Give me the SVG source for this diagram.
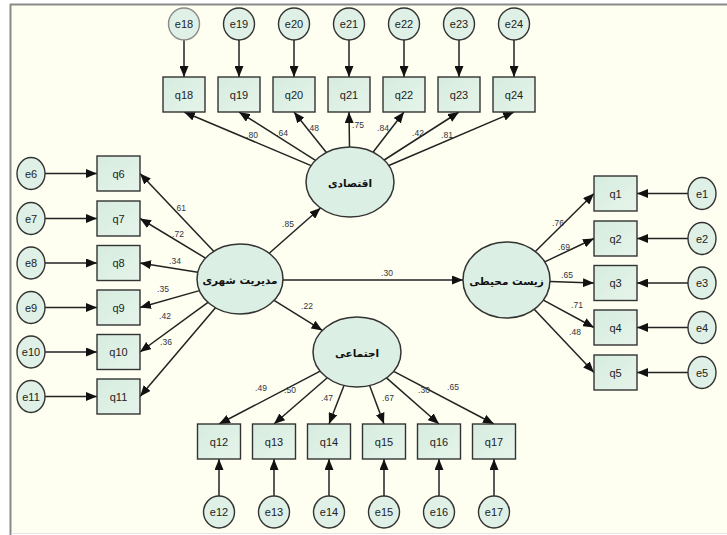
<svg xmlns="http://www.w3.org/2000/svg" width="727" height="535" viewBox="0 0 727 535">
<defs>
<marker id="ah" markerUnits="userSpaceOnUse" markerWidth="11" markerHeight="9" refX="11" refY="4.5" orient="auto">
<path d="M0,0 L11,4.5 L0,9 z" fill="#111"/>
</marker>
<linearGradient id="gb" x1="0" y1="0" x2="1" y2="1">
<stop offset="0" stop-color="#d6ecdf"/>
<stop offset="1" stop-color="#e6f4ea"/>
</linearGradient>
<style>
.bg{fill:#fefff0}
.fr{stroke:#8a8a8a;stroke-width:2;fill:none}
.box{fill:url(#gb);stroke:#333;stroke-width:1.4}
.err{fill:#dff0e6;stroke:#333;stroke-width:1.4}
.lat{fill:#dcefe4;stroke:#333;stroke-width:1.5}
.t{font-family:"Liberation Sans",Arial,sans-serif;font-size:11px;fill:#222;text-anchor:middle}
.fa{font-family:"DejaVu Sans","Noto Sans",sans-serif;font-size:10.5px;font-weight:bold;fill:#111;text-anchor:middle}
.w{font-family:"Liberation Sans",Arial,sans-serif;font-size:8.5px;fill:#334;text-anchor:middle}
#conn line{stroke:#222;stroke-width:1.5;marker-end:url(#ah)}
</style>
</defs>
<rect x="0" y="0" width="727" height="535" fill="#ffffff"/>
<rect class="bg" x="11" y="5" width="716" height="528"/>
<line class="fr" x1="10.5" y1="4" x2="10.5" y2="535"/>
<line class="fr" x1="10" y1="4.5" x2="727" y2="4.5"/>
<line x1="11" y1="533.5" x2="727" y2="533.5" stroke="#e4e4e4" stroke-width="1"/>

<g id="conn">
<!-- economic indicators -->
<line x1="311.1" y1="165.6" x2="184" y2="112"/>
<line x1="315.5" y1="160.3" x2="239" y2="112"/>
<line x1="326.4" y1="152.5" x2="294" y2="112"/>
<line x1="349.5" y1="147" x2="349" y2="112"/>
<line x1="373" y1="152.2" x2="404" y2="112"/>
<line x1="384.2" y1="160" x2="459" y2="112"/>
<line x1="388.8" y1="165.5" x2="514" y2="112"/>
<!-- e18-e24 -->
<line x1="184" y1="40" x2="184" y2="77"/>
<line x1="239" y1="40" x2="239" y2="77"/>
<line x1="294" y1="40" x2="294" y2="77"/>
<line x1="349" y1="40" x2="349" y2="77"/>
<line x1="404" y1="40" x2="404" y2="77"/>
<line x1="459" y1="40" x2="459" y2="77"/>
<line x1="514" y1="40" x2="514" y2="77"/>
<!-- management indicators -->
<line x1="213.7" y1="251.3" x2="140" y2="173.5"/>
<line x1="205.5" y1="258.1" x2="140" y2="218.5"/>
<line x1="197.8" y1="272.2" x2="140" y2="263"/>
<line x1="199.4" y1="290.6" x2="140" y2="307.5"/>
<line x1="208" y1="302.4" x2="140" y2="352"/>
<line x1="215.5" y1="307.8" x2="140" y2="396.5"/>
<!-- e6-e11 -->
<line x1="45" y1="173.5" x2="97" y2="173.5"/>
<line x1="45" y1="218.5" x2="97" y2="218.5"/>
<line x1="45" y1="263" x2="97" y2="263"/>
<line x1="45" y1="307.5" x2="97" y2="307.5"/>
<line x1="45" y1="352" x2="97" y2="352"/>
<line x1="45" y1="396.5" x2="97" y2="396.5"/>
<!-- structural -->
<line x1="269.2" y1="253.3" x2="320.5" y2="208"/>
<line x1="283" y1="280" x2="463" y2="280"/>
<line x1="274.1" y1="300.3" x2="322.4" y2="330.4"/>
<!-- environment indicators -->
<line x1="535.3" y1="251.5" x2="594" y2="193.5"/>
<line x1="544.7" y1="261.9" x2="594" y2="238.5"/>
<line x1="550" y1="281.5" x2="594" y2="283"/>
<line x1="543.4" y1="300.1" x2="594" y2="327.5"/>
<line x1="534.2" y1="309.3" x2="594" y2="372.5"/>
<!-- e1-e5 -->
<line x1="688" y1="193.5" x2="637" y2="193.5"/>
<line x1="688" y1="238.5" x2="637" y2="238.5"/>
<line x1="688" y1="283" x2="637" y2="283"/>
<line x1="688" y1="327.5" x2="637" y2="327.5"/>
<line x1="688" y1="372.5" x2="637" y2="372.5"/>
<!-- social indicators -->
<line x1="320.2" y1="371.2" x2="219" y2="424"/>
<line x1="327.3" y1="377.8" x2="274" y2="424"/>
<line x1="344" y1="385.4" x2="329" y2="424"/>
<line x1="369.6" y1="385.5" x2="384" y2="424"/>
<line x1="386.5" y1="377.9" x2="439" y2="424"/>
<line x1="393.7" y1="371.3" x2="494" y2="424"/>
<!-- e12-e17 -->
<line x1="219" y1="496" x2="219" y2="459"/>
<line x1="274" y1="496" x2="274" y2="459"/>
<line x1="329" y1="496" x2="329" y2="459"/>
<line x1="384" y1="496" x2="384" y2="459"/>
<line x1="439" y1="496" x2="439" y2="459"/>
<line x1="494" y1="496" x2="494" y2="459"/>
</g>

<g id="weights">
<text class="w" x="252" y="138">.80</text>
<text class="w" x="282" y="136">.64</text>
<text class="w" x="313" y="131">.48</text>
<text class="w" x="358" y="128">.75</text>
<text class="w" x="383" y="131">.84</text>
<text class="w" x="418" y="136">.42</text>
<text class="w" x="447" y="138">.81</text>
<text class="w" x="180" y="211">.61</text>
<text class="w" x="178" y="237">.72</text>
<text class="w" x="175" y="264">.34</text>
<text class="w" x="163" y="292">.35</text>
<text class="w" x="165" y="319">.42</text>
<text class="w" x="166" y="345">.36</text>
<text class="w" x="288" y="227">.85</text>
<text class="w" x="307" y="309">.22</text>
<text class="w" x="387" y="276">.30</text>
<text class="w" x="558" y="226">.76</text>
<text class="w" x="564" y="250">.69</text>
<text class="w" x="567" y="278">.65</text>
<text class="w" x="577" y="308">.71</text>
<text class="w" x="575" y="335">.48</text>
<text class="w" x="261" y="391">.49</text>
<text class="w" x="290" y="393">.50</text>
<text class="w" x="327" y="401">.47</text>
<text class="w" x="388" y="401">.67</text>
<text class="w" x="424" y="393">.30</text>
<text class="w" x="453" y="390">.65</text>
</g>

<!-- latent variables -->
<g id="eghtesadi"><ellipse class="lat" cx="350" cy="182" rx="44" ry="35"/><text class="fa" x="350" y="187">اقتصادی</text></g>
<g id="modiriat"><ellipse class="lat" cx="240" cy="279" rx="43" ry="35"/><text class="fa" x="240" y="284">مدیریت شهری</text></g>
<g id="zist"><ellipse class="lat" cx="506.5" cy="280" rx="43.5" ry="38"/><text class="fa" x="506.5" y="285">زیست محیطی</text></g>
<g id="ejtemai"><ellipse class="lat" cx="357" cy="352" rx="44" ry="35"/><text class="fa" x="357" y="357">اجتماعی</text></g>

<!-- top indicators -->
<g id="q18"><rect class="box" x="163" y="77" width="42" height="35"/><text class="t" x="184" y="98.5">q18</text></g>
<g id="q19"><rect class="box" x="218" y="77" width="42" height="35"/><text class="t" x="239" y="98.5">q19</text></g>
<g id="q20"><rect class="box" x="273" y="77" width="42" height="35"/><text class="t" x="294" y="98.5">q20</text></g>
<g id="q21"><rect class="box" x="328" y="77" width="42" height="35"/><text class="t" x="349" y="98.5">q21</text></g>
<g id="q22"><rect class="box" x="383" y="77" width="42" height="35"/><text class="t" x="404" y="98.5">q22</text></g>
<g id="q23"><rect class="box" x="438" y="77" width="42" height="35"/><text class="t" x="459" y="98.5">q23</text></g>
<g id="q24"><rect class="box" x="493" y="77" width="42" height="35"/><text class="t" x="514" y="98.5">q24</text></g>
<g id="e18"><ellipse class="err" cx="184" cy="24" rx="15.5" ry="16" style="stroke:#8a8a8a"/><text class="t" x="184" y="28">e18</text></g>
<g id="e19"><ellipse class="err" cx="239" cy="24" rx="15.5" ry="16"/><text class="t" x="239" y="28">e19</text></g>
<g id="e20"><ellipse class="err" cx="294" cy="24" rx="15.5" ry="16"/><text class="t" x="294" y="28">e20</text></g>
<g id="e21"><ellipse class="err" cx="349" cy="24" rx="15.5" ry="16"/><text class="t" x="349" y="28">e21</text></g>
<g id="e22"><ellipse class="err" cx="404" cy="24" rx="15.5" ry="16"/><text class="t" x="404" y="28">e22</text></g>
<g id="e23"><ellipse class="err" cx="459" cy="24" rx="15.5" ry="16"/><text class="t" x="459" y="28">e23</text></g>
<g id="e24"><ellipse class="err" cx="514" cy="24" rx="15.5" ry="16"/><text class="t" x="514" y="28">e24</text></g>

<!-- left indicators -->
<g id="q6"><rect class="box" x="97" y="156" width="43" height="35"/><text class="t" x="118.5" y="177.5">q6</text></g>
<g id="q7"><rect class="box" x="97" y="201" width="43" height="35"/><text class="t" x="118.5" y="222.5">q7</text></g>
<g id="q8"><rect class="box" x="97" y="245.5" width="43" height="35"/><text class="t" x="118.5" y="267">q8</text></g>
<g id="q9"><rect class="box" x="97" y="290" width="43" height="35"/><text class="t" x="118.5" y="311.5">q9</text></g>
<g id="q10"><rect class="box" x="97" y="334.5" width="43" height="35"/><text class="t" x="118.5" y="356">q10</text></g>
<g id="q11"><rect class="box" x="97" y="379" width="43" height="35"/><text class="t" x="118.5" y="400.5">q11</text></g>
<g id="e6"><ellipse class="err" cx="31" cy="173.5" rx="14" ry="16"/><text class="t" x="31" y="177.5">e6</text></g>
<g id="e7"><ellipse class="err" cx="31" cy="218.5" rx="14" ry="16"/><text class="t" x="31" y="222.5">e7</text></g>
<g id="e8"><ellipse class="err" cx="31" cy="263" rx="14" ry="16"/><text class="t" x="31" y="267">e8</text></g>
<g id="e9"><ellipse class="err" cx="31" cy="307.5" rx="14" ry="16"/><text class="t" x="31" y="311.5">e9</text></g>
<g id="e10"><ellipse class="err" cx="31" cy="352" rx="14" ry="16"/><text class="t" x="31" y="356">e10</text></g>
<g id="e11"><ellipse class="err" cx="31" cy="396.5" rx="14" ry="16"/><text class="t" x="31" y="400.5">e11</text></g>

<!-- right indicators -->
<g id="q1"><rect class="box" x="594" y="176" width="43" height="35"/><text class="t" x="615.5" y="197.5">q1</text></g>
<g id="q2"><rect class="box" x="594" y="221" width="43" height="35"/><text class="t" x="615.5" y="242.5">q2</text></g>
<g id="q3"><rect class="box" x="594" y="265.5" width="43" height="35"/><text class="t" x="615.5" y="287">q3</text></g>
<g id="q4"><rect class="box" x="594" y="310" width="43" height="35"/><text class="t" x="615.5" y="331.5">q4</text></g>
<g id="q5"><rect class="box" x="594" y="355" width="43" height="35"/><text class="t" x="615.5" y="376.5">q5</text></g>
<g id="e1"><ellipse class="err" cx="702" cy="193.5" rx="14" ry="16"/><text class="t" x="702" y="197.5">e1</text></g>
<g id="e2"><ellipse class="err" cx="702" cy="238.5" rx="14" ry="16"/><text class="t" x="702" y="242.5">e2</text></g>
<g id="e3"><ellipse class="err" cx="702" cy="283" rx="14" ry="16"/><text class="t" x="702" y="287">e3</text></g>
<g id="e4"><ellipse class="err" cx="702" cy="327.5" rx="14" ry="16"/><text class="t" x="702" y="331.5">e4</text></g>
<g id="e5"><ellipse class="err" cx="702" cy="372.5" rx="14" ry="16"/><text class="t" x="702" y="376.5">e5</text></g>

<!-- bottom indicators -->
<g id="q12"><rect class="box" x="197.5" y="424" width="43" height="35"/><text class="t" x="219" y="445.5">q12</text></g>
<g id="q13"><rect class="box" x="252.5" y="424" width="43" height="35"/><text class="t" x="274" y="445.5">q13</text></g>
<g id="q14"><rect class="box" x="307.5" y="424" width="43" height="35"/><text class="t" x="329" y="445.5">q14</text></g>
<g id="q15"><rect class="box" x="362.5" y="424" width="43" height="35"/><text class="t" x="384" y="445.5">q15</text></g>
<g id="q16"><rect class="box" x="417.5" y="424" width="43" height="35"/><text class="t" x="439" y="445.5">q16</text></g>
<g id="q17"><rect class="box" x="472.5" y="424" width="43" height="35"/><text class="t" x="494" y="445.5">q17</text></g>
<g id="e12"><ellipse class="err" cx="219" cy="512" rx="15.5" ry="16"/><text class="t" x="219" y="516">e12</text></g>
<g id="e13"><ellipse class="err" cx="274" cy="512" rx="15.5" ry="16"/><text class="t" x="274" y="516">e13</text></g>
<g id="e14"><ellipse class="err" cx="329" cy="512" rx="15.5" ry="16"/><text class="t" x="329" y="516">e14</text></g>
<g id="e15"><ellipse class="err" cx="384" cy="512" rx="15.5" ry="16"/><text class="t" x="384" y="516">e15</text></g>
<g id="e16"><ellipse class="err" cx="439" cy="512" rx="15.5" ry="16"/><text class="t" x="439" y="516">e16</text></g>
<g id="e17"><ellipse class="err" cx="494" cy="512" rx="15.5" ry="16"/><text class="t" x="494" y="516">e17</text></g>
</svg>
